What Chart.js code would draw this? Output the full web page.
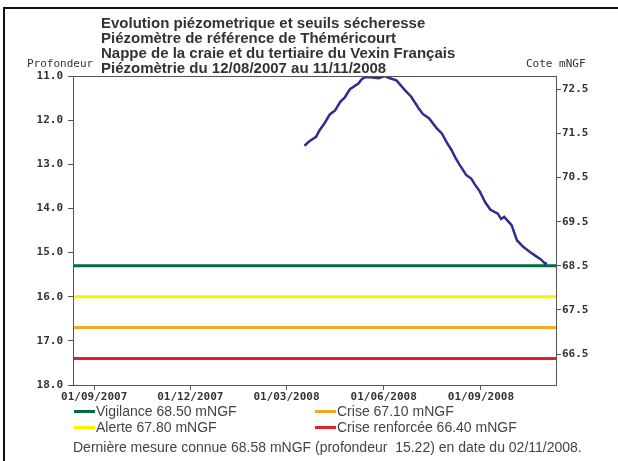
<!DOCTYPE html>
<html>
<head>
<meta charset="utf-8">
<script src="https://cdn.jsdelivr.net/npm/chart.js@4.4.0/dist/chart.umd.min.js"></script>
<style>
  html, body { margin: 0; padding: 0; background: #fff; overflow: hidden; }
  #wrap { position: relative; width: 618px; height: 461px; overflow: hidden; }
  .trait { position: absolute; background: #111; }
  canvas { position: absolute; left: 0; top: 0; }
  #titre { position: absolute; left: 101px; top: 14.5px; font: bold 15px "Liberation Sans", Arial, sans-serif; line-height: 15.3px; color: #333; white-space: nowrap; }
  .axlab { position: absolute; top: 57px; font: 11px "DejaVu Sans Mono", monospace; color: #333; }
  .leg { position: absolute; font: 14px "Liberation Sans", Arial, sans-serif; color: #444; white-space: pre; }
  .leg i { display: inline-block; width: 21px; height: 3px; vertical-align: middle; margin-right: 1px; position: relative; top: -1px; }
</style>
</head>
<body>
<div id="wrap">
  <canvas id="chart" width="618" height="461"></canvas>
  <div class="trait" style="left:3px;top:7px;width:615px;height:2px"></div>
  <div class="trait" style="left:3px;top:7px;width:2px;height:454px"></div>
  <div id="titre"></div>
  <div class="axlab" style="left:27px">Profondeur</div>
  <div class="axlab" style="left:526px">Cote mNGF</div>
  <div id="legende"></div>
</div>
<script>
// ---------- Données ----------
const titre = [
  "Evolution piézometrique et seuils sécheresse",
  "Piézomètre de référence de Théméricourt",
  "Nappe de la craie et du tertiaire du Vexin Français",
  "Piézomètrie du 12/08/2007 au 11/11/2008"
];
const debut = "2007-08-12";
const fin   = "2008-11-11";
const xTicks  = ["2007-09-01", "2007-12-01", "2008-03-01", "2008-06-01", "2008-09-01"];
const xLabels = ["01/09/2007", "01/12/2007", "01/03/2008", "01/06/2008", "01/09/2008"];
const coteTicks = [72.5, 71.5, 70.5, 69.5, 68.5, 67.5, 66.5];

// mesures : date + profondeur (m)
const mesDates = [
  "2008-03-18", "2008-03-23", "2008-03-29", "2008-04-01", "2008-04-06", "2008-04-11",
  "2008-04-16", "2008-04-21", "2008-04-25", "2008-04-30", "2008-05-08", "2008-05-11",
  "2008-05-14", "2008-05-20", "2008-05-27", "2008-06-02", "2008-06-07", "2008-06-13",
  "2008-06-21", "2008-06-27", "2008-07-04", "2008-07-08", "2008-07-14", "2008-07-21",
  "2008-07-26", "2008-07-31", "2008-08-04", "2008-08-08", "2008-08-12", "2008-08-18",
  "2008-08-23", "2008-08-26", "2008-08-31", "2008-09-05", "2008-09-10", "2008-09-17",
  "2008-09-20", "2008-09-23", "2008-09-30", "2008-10-05", "2008-10-11", "2008-10-17",
  "2008-10-23", "2008-10-28", "2008-11-01", "2008-11-02"
];
const mesProf = [
  12.58, 12.47, 12.38, 12.24, 12.07, 11.87,
  11.78, 11.58, 11.49, 11.30, 11.17, 11.08,
  11.03, 11.03, 11.05, 11.00, 11.05, 11.10,
  11.32, 11.47, 11.73, 11.86, 11.96, 12.18,
  12.30, 12.52, 12.67, 12.86, 13.02, 13.24,
  13.33, 13.45, 13.62, 13.86, 14.03, 14.12,
  14.24, 14.19, 14.38, 14.72, 14.87, 14.98,
  15.08, 15.16, 15.26, 15.22
];

// seuils sécheresse (mNGF)
const seuilNoms    = ["Vigilance", "Crise", "Alerte", "Crise renforcée"];
const seuilCotes   = [68.50, 67.10, 67.80, 66.40];
const seuilCouleurs = ["#006b3c", "#f7a823", "#ffee00", "#e4202a"];
const derniereMesure = "Dernière mesure connue 68.58 mNGF (profondeur  15.22) en date du 02/11/2008.";

// ---------- Utils ----------
const J0 = Date.parse(debut);
function jour(s) { return Math.round((Date.parse(s) - J0) / 86400000); }
const xMax = jour(fin);

// ---------- Textes ----------
document.getElementById("titre").innerHTML = titre.join("<br>");
const leg = document.getElementById("legende");
seuilNoms.forEach((nom, i) => {
  const d = document.createElement("div");
  d.className = "leg";
  d.style.left = (i % 2 === 0 ? 74 : 315) + "px";
  d.style.top = (i < 2 ? 403 : 419) + "px";
  d.innerHTML = `<i style="background:${seuilCouleurs[i]}"></i>${nom} ${seuilCotes[i].toFixed(2)} mNGF`;
  leg.appendChild(d);
});
const dm = document.createElement("div");
dm.className = "leg";
dm.style.left = "73px"; dm.style.top = "439px";
dm.textContent = derniereMesure;
leg.appendChild(dm);

// ---------- Graphe ----------
const tickFont = { family: "DejaVu Sans Mono", size: 11, weight: "bold" };
const axeCouleur = "#555";

const datasets = [{
  label: "Piézomètrie",
  data: mesDates.map((d, i) => ({ x: jour(d), y: mesProf[i] })),
  yAxisID: "y",
  borderColor: "#2b2f8f",
  borderWidth: 2.5,
  pointRadius: 0,
  tension: 0
}];
seuilNoms.forEach((nom, i) => {
  datasets.push({
    label: nom,
    data: [{ x: 0, y: seuilCotes[i] }, { x: xMax, y: seuilCotes[i] }],
    yAxisID: "y2",
    borderColor: seuilCouleurs[i],
    borderWidth: 3,
    pointRadius: 0
  });
});

const cadrePlot = {
  id: "cadrePlot",
  afterDraw(c) {
    const a = c.chartArea, ctx = c.ctx;
    ctx.save();
    ctx.strokeStyle = axeCouleur; ctx.lineWidth = 1;
    ctx.strokeRect(Math.round(a.left) + 0.5, Math.round(a.top) + 0.5, Math.round(a.right - a.left), Math.round(a.bottom - a.top));
    ctx.restore();
  }
};

new Chart(document.getElementById("chart"), {
  type: "line",
  data: { datasets },
  plugins: [cadrePlot],
  options: {
    responsive: false,
    animation: false,
    devicePixelRatio: 1,
    layout: { padding: { top: 76, left: 0, right: 0, bottom: 0 } },
    plugins: { legend: { display: false }, tooltip: { enabled: false } },
    scales: {
      x: {
        type: "linear", min: 0, max: xMax,
        afterBuildTicks: s => { s.ticks = xTicks.map(t => ({ value: jour(t) })); },
        afterFit: s => { s.height = 76; },
        ticks: {
          font: tickFont, color: "#333", padding: 1, maxRotation: 0, autoSkip: false,
          callback: (v, i) => xLabels[i]
        },
        grid: { drawOnChartArea: false, tickLength: 5, color: axeCouleur },
        border: { color: axeCouleur }
      },
      y: {
        position: "left", reverse: true, min: 11, max: 18,
        afterFit: s => { s.width = 73; },
        ticks: { stepSize: 1, font: tickFont, color: "#333", padding: 5, callback: v => v.toFixed(1) },
        grid: { drawOnChartArea: false, tickLength: 5, color: axeCouleur },
        border: { color: axeCouleur }
      },
      y2: {
        position: "right", min: 65.8, max: 72.8,
        afterBuildTicks: s => { s.ticks = coteTicks.map(v => ({ value: v })); },
        afterFit: s => { s.width = 62; },
        ticks: { font: tickFont, color: "#333", padding: 1, callback: v => v.toFixed(1) },
        grid: { drawOnChartArea: false, tickLength: 5, color: axeCouleur },
        border: { color: axeCouleur }
      }
    }
  }
});
</script>
</body>
</html>
